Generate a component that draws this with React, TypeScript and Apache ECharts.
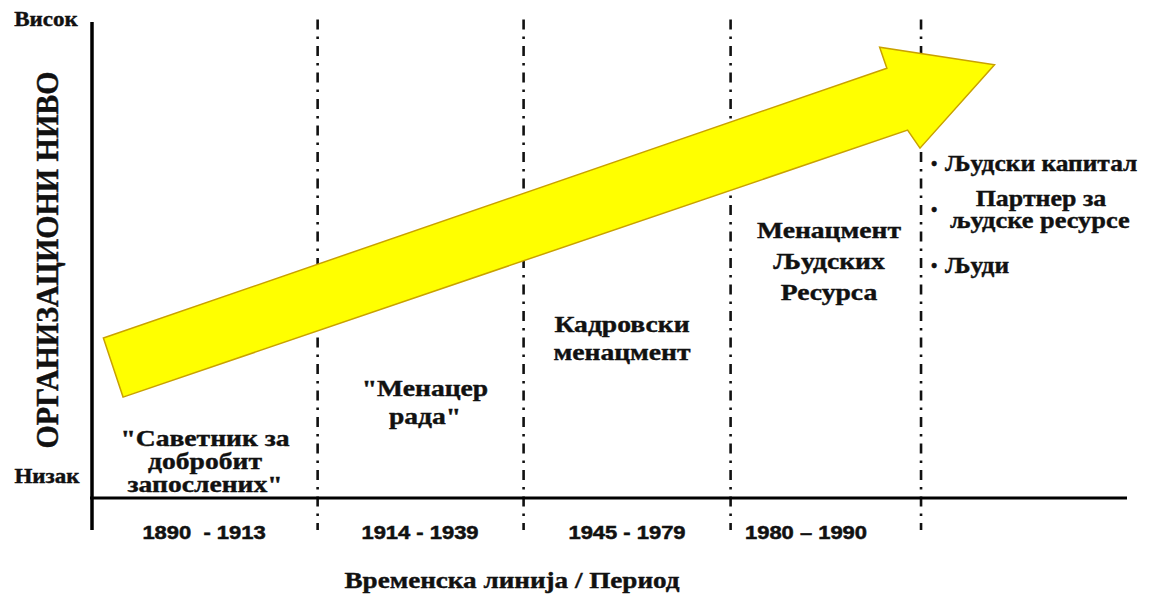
import React, { useEffect, useRef } from "react";
import * as echarts from "echarts";

// ---- data ----
const levelLabels = ["Низак", "Висок"];
const yTitle = "ОРГАНИЗАЦИОНИ НИВО";
const xTitle = "Временска линија / Период";
const periods = ["1890  - 1913", "1914 - 1939", "1945 - 1979", "1980 – 1990"];
// period boundaries on a 0..100 time scale
const dividers = [21.8, 41.7, 61.7, 80.1];
const stages = [
  ["\"Саветник за", "добробит", "запослених\""],
  ["\"Менацер", "рада\""],
  ["Кадровски", "менацмент"],
  ["Менацмент", "Људских", "Ресурса"],
];
const modernRoles = ["Људски капитал", "Партнер за\nљудске ресурсе", "Људи"];
// arrow outline on the 0..100 / 0..100 scale
const arrowX = [1.1, 76.8, 76.1, 87.2, 80.0, 78.8, 3.0];
const arrowY = [33.6, 90.3, 94.7, 91.0, 73.5, 77.3, 21.2];

// ---- layout (pixels) ----
const SERIF = "Liberation Serif";
const SANS = "Liberation Sans";
const periodPos = [204, 420, 627, 806];
const stagePos = [
  { x: 205, y: 438, lh: 23 },
  { x: 425, y: 388, lh: 28 },
  { x: 622, y: 324, lh: 28 },
  { x: 829, y: 230, lh: 31 },
];
const rolePos = [
  { x: 931, y: 163 },
  { x: 931, y: 209 },
  { x: 931, y: 265 },
];

export default function App() {
  const ref = useRef<HTMLDivElement>(null);
  useEffect(() => {
    const chart = echarts.init(ref.current!, null, { renderer: "svg" });
    const graphic: any[] = [];
    const txt = (x: number, y: number, text: string, o: any = {}) =>
      graphic.push({
        type: "text",
        x,
        y,
        scaleX: o.scaleX ?? 1.2,
        scaleY: o.scaleY ?? 1,
        rotation: o.rotation ?? 0,
        style: {
          text,
          fontFamily: o.family ?? SERIF,
          fontSize: o.size ?? 23,
          fontWeight: "bold",
          fill: "#111",
          stroke: "#111",
          lineWidth: o.lw ?? 0.4,
          align: o.align ?? "center",
          verticalAlign: "middle",
        },
      });
    txt(46, 20, levelLabels[1], { size: 20, scaleX: 1.15 });
    txt(47, 477, levelLabels[0], { size: 20, scaleX: 1.15 });
    txt(48, 260, yTitle, { size: 28, rotation: Math.PI / 2, scaleX: 1.07, scaleY: 1.1 });
    txt(512, 580, xTitle, { size: 23, scaleX: 1.18 });
    periods.forEach((p, i) => txt(periodPos[i], 533, p, { family: SANS, size: 18, scaleX: 1.22, lw: 0.5 }));
    stages.forEach((lines, i) =>
      lines.forEach((l, j) => txt(stagePos[i].x, stagePos[i].y + j * stagePos[i].lh, l))
    );
    modernRoles.forEach((r, i) => {
      txt(rolePos[i].x, rolePos[i].y + 1, "•", { size: 18, align: "left", scaleX: 1 });
      const parts = r.split("\n");
      if (parts.length === 1) {
        txt(rolePos[i].x + 14, rolePos[i].y, r, { align: "left", size: 24, scaleX: 1.06 });
      } else {
        txt(1041, rolePos[i].y - 11, parts[0], { size: 24, scaleX: 1.08 });
        txt(950, rolePos[i].y + 11, parts[1], { align: "left", size: 24, scaleX: 1.1 });
      }
    });

    const arrowData = arrowX.map((x, i) => [x, arrowY[i]]);
    const dividerSeries = dividers.map((d) => ({
      type: "line",
      data: [
        [d, 100.5],
        [d, -6.7],
      ],
      symbol: "none",
      clip: false,
      silent: true,
      lineStyle: { color: "#111", width: 2.6, type: [10, 7, 2.5, 7] },
      z: 1,
    }));

    chart.setOption({
      animation: false,
      backgroundColor: "#fff",
      grid: { left: 92, right: 38, top: 22, bottom: 99 },
      xAxis: { type: "value", min: 0, max: 100, show: false },
      yAxis: { type: "value", min: 0, max: 100, show: false },
      graphic,
      series: [
        ...dividerSeries,
        {
          type: "custom",
          z: 3,
          clip: false,
          data: [0],
          renderItem: (_p: any, api: any) => ({
            type: "polygon",
            shape: { points: arrowData.map((pt) => api.coord(pt)) },
            style: { fill: "#FFFF00", stroke: "#C9A100", lineWidth: 1.5 },
          }),
        },
        {
          type: "line",
          data: [
            [-3.1, 0],
            [100, 0],
          ],
          symbol: "none",
          clip: false,
          lineStyle: { color: "#000", width: 3 },
          z: 4,
        },
        {
          type: "line",
          data: [
            [0, 100],
            [0, -6.7],
          ],
          symbol: "none",
          clip: false,
          lineStyle: { color: "#000", width: 3.5 },
          z: 4,
        },
      ],
    });
    return () => chart.dispose();
  }, []);
  return (
    <div
      ref={ref}
      style={{ position: "fixed", left: 0, top: 0, width: 1165, height: 597, background: "#fff" }}
    />
  );
}
